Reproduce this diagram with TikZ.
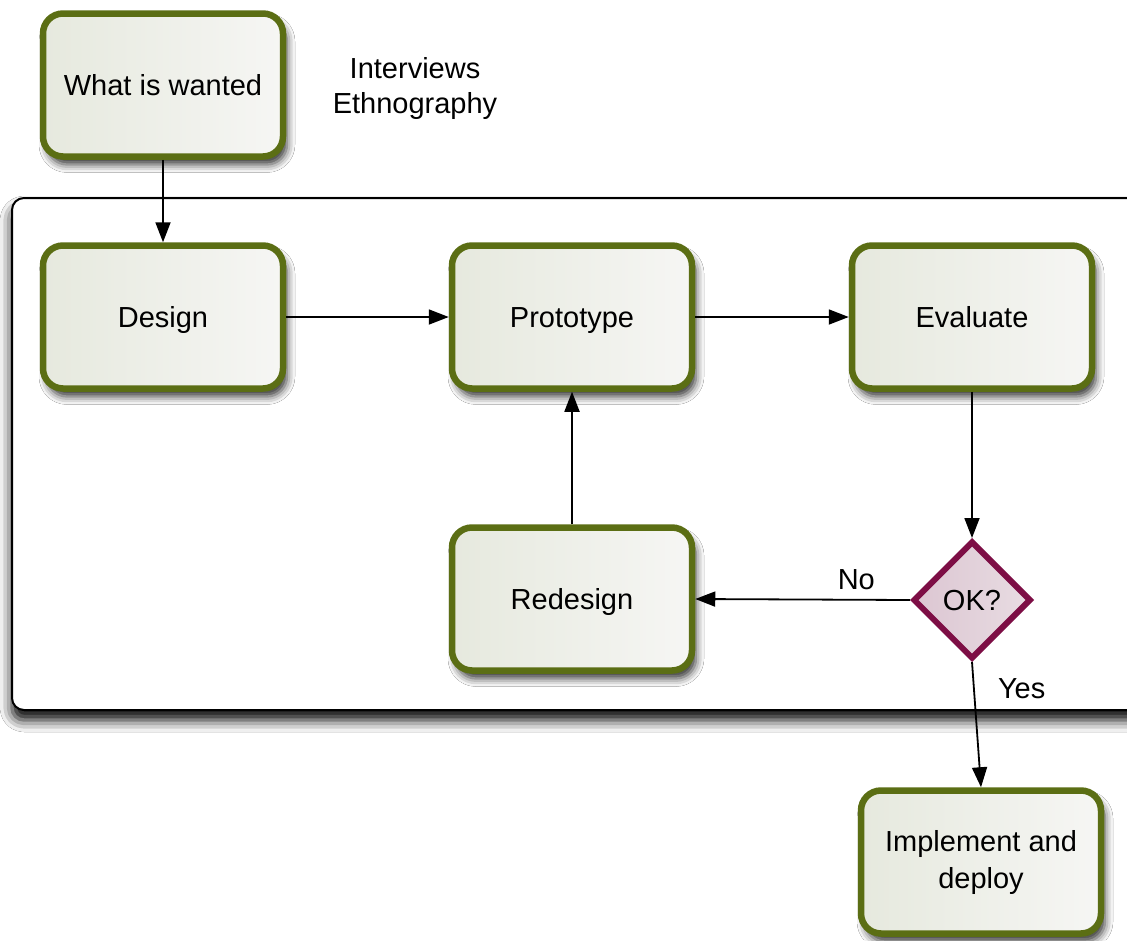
\documentclass[tikz,border=0pt]{standalone}
\usepackage{fontspec}
\setmainfont{Liberation Sans}
\usetikzlibrary{shapes.geometric,arrows.meta,shadows.blur}
\definecolor{olive}{HTML}{5B6E14}
\definecolor{boxL}{HTML}{E6E9DE}
\definecolor{boxR}{HTML}{F6F6F4}
\definecolor{maroon}{HTML}{7D0E45}
\definecolor{pinkL}{HTML}{DCC6D2}
\definecolor{pinkR}{HTML}{E8DCE2}
\tikzset{
  boxbase/.style={draw=olive, line width=6.5pt, rounded corners=20pt,
    left color=boxL, right color=boxR, minimum width=240pt, minimum height=143pt,
    align=center, font=\fontsize{29}{37}\selectfont,
    blur shadow={shadow xshift=4pt, shadow yshift=-8pt, shadow blur radius=8pt, shadow opacity=80}},
  stepbox/.style={boxbase, text height=24pt, text depth=3pt},
  decide/.style={diamond, draw=maroon, line width=6pt, left color=pinkL, right color=pinkR,
    minimum width=118pt, minimum height=118pt, inner sep=0pt, font=\fontsize{29}{35}\selectfont,
    text height=24pt, text depth=3pt},
  conn/.style={draw=black, line width=1.8pt, -{Triangle[length=20pt,width=15pt,fill=black]}},
  lbl/.style={font=\fontsize{29}{35}\selectfont, align=center}
}
\begin{document}
\begin{tikzpicture}[x=1pt,y=-1pt]
\clip (0,0) rectangle (1127,940);
\fill[white] (0,0) rectangle (1127,940);
\draw[line width=2pt, fill=white, rounded corners=12pt,
  blur shadow={shadow xshift=0pt, shadow yshift=-10pt, shadow blur radius=12pt, shadow opacity=100}]
  (12,198) rectangle (1160,710);
\node[stepbox] (want) at (163,85) {What is wanted};
\node[lbl] (intv) at (415,88) {Interviews\\Ethnography};
\node[stepbox] (design) at (163,317) {Design};
\node[stepbox] (proto) at (572,317) {Prototype};
\node[stepbox] (eval) at (972,317) {Evaluate};
\node[stepbox] (redes) at (572,599) {Redesign};
\node[decide] (ok) at (972,600) {OK?};
\node[boxbase] (impl) at (981,862) {Implement and\\deploy};
\draw[conn] (want) -- (design);
\draw[conn] (design) -- (proto);
\draw[conn] (proto) -- (eval);
\draw[conn] (eval) -- (ok);
\draw[conn] (ok.west) -- node[lbl, above, pos=0.25, yshift=6pt] (nolbl) {No} (redes.east);
\draw[conn] (redes) -- (proto);
\draw[conn] (ok.south) -- node[lbl, right, pos=0.2, xshift=20pt, yshift=-2pt] (yeslbl) {Yes} (impl.north);
\end{tikzpicture}
\end{document}
